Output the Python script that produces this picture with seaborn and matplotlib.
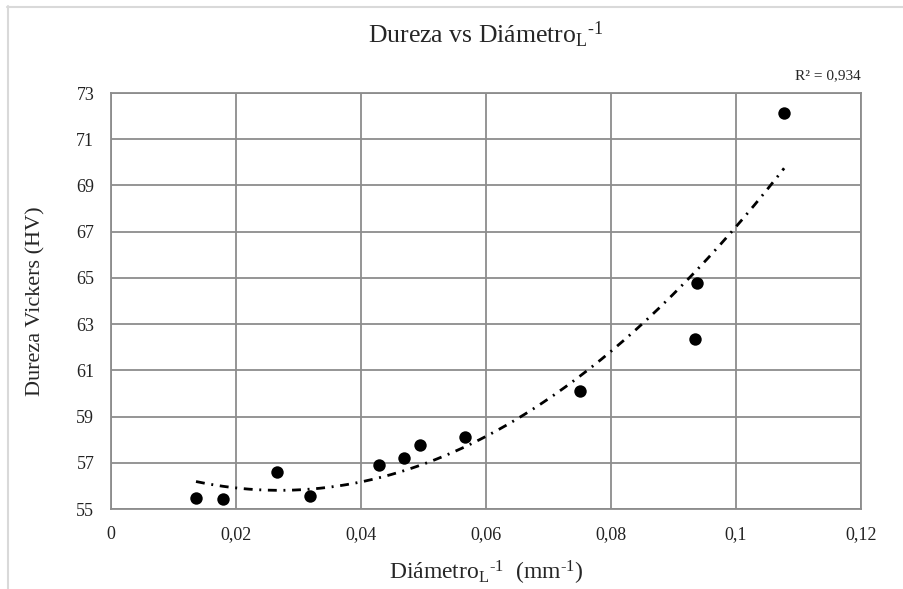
import numpy as np
import pandas as pd
import matplotlib
matplotlib.use("Agg")
import matplotlib.pyplot as plt
import seaborn as sns
from matplotlib.lines import Line2D
from matplotlib.ticker import FuncFormatter

# Data
diam_inv = [0.0136, 0.0179, 0.0265, 0.0318, 0.0429, 0.0468, 0.0494, 0.0567, 0.0750, 0.0937, 0.0934, 0.1077]
dureza = [55.49, 55.42, 56.62, 55.56, 56.90, 57.22, 57.77, 58.10, 60.12, 64.80, 62.36, 72.13]
x_ticks = [0, 0.02, 0.04, 0.06, 0.08, 0.1, 0.12]
y_ticks = [55, 57, 59, 61, 63, 65, 67, 69, 71, 73]
r2_text = "R² = 0,934"

df = pd.DataFrame({"x": diam_inv, "y": dureza})

sns.set_theme(style="white")
plt.rcParams["font.family"] = ["Liberation Serif", "DejaVu Serif"]
plt.rcParams["mathtext.fontset"] = "custom"
plt.rcParams["mathtext.rm"] = "Liberation Serif"
plt.rcParams["mathtext.it"] = "Liberation Serif"

fig = plt.figure(figsize=(9.04, 5.89), dpi=100)
ax = fig.add_axes([111/904, 1 - 509/589, 750/904, (509 - 93)/589])

sns.scatterplot(data=df, x="x", y="y", ax=ax, color="black", s=80,
                edgecolor="black", linewidth=0, zorder=4, legend=False)

# 2nd-order polynomial trendline (as in the original)
coef = np.polyfit(df["x"], df["y"], 2)
xs = np.linspace(min(diam_inv), max(diam_inv), 200)
ax.plot(xs, np.polyval(coef, xs), color="black", lw=2,
        dashes=(3.2, 2.4, 0.7, 2.4), zorder=3)

ax.set_xlim(0, 0.12)
ax.set_ylim(55, 73)
ax.set_xticks(x_ticks)
ax.set_yticks(y_ticks)
fmt = lambda v, p: ("%g" % v).replace(".", ",")
ax.xaxis.set_major_formatter(FuncFormatter(fmt))
ax.yaxis.set_major_formatter(FuncFormatter(fmt))
ax.tick_params(axis="both", length=0, labelsize=13, colors="#222222")
ax.tick_params(axis="x", pad=12)
ax.tick_params(axis="y", pad=12)
ax.grid(True, color="#8c8c8c", lw=1.3)
for s in ax.spines.values():
    s.set_color("#8c8c8c")
    s.set_linewidth(1.3)

ax.set_xlabel(r"Diámetro$_\mathrm{L}$$^{\text{-1}}$  (mm$^{\text{-1}}$)", fontsize=17, labelpad=12)
ax.set_ylabel("Dureza Vickers (HV)", fontsize=16, labelpad=22)
ax.set_title(r"Dureza vs Diámetro$_\mathrm{L}$$^{\text{-1}}$", fontsize=18.5, pad=36)
ax.text(1.0, 1.025, r2_text, transform=ax.transAxes, ha="right", va="bottom",
        fontsize=11)

# light outer chart border (cut at right/bottom)
fig.add_artist(Line2D([7/904, 1], [1 - 6.5/589, 1 - 6.5/589], color="#d9d9d9", lw=1.5,
                      transform=fig.transFigure))
fig.add_artist(Line2D([7.5/904, 7.5/904], [0, 1 - 6/589], color="#d9d9d9", lw=1.5,
                      transform=fig.transFigure))

fig.savefig("out.png", dpi=100, facecolor="white")
